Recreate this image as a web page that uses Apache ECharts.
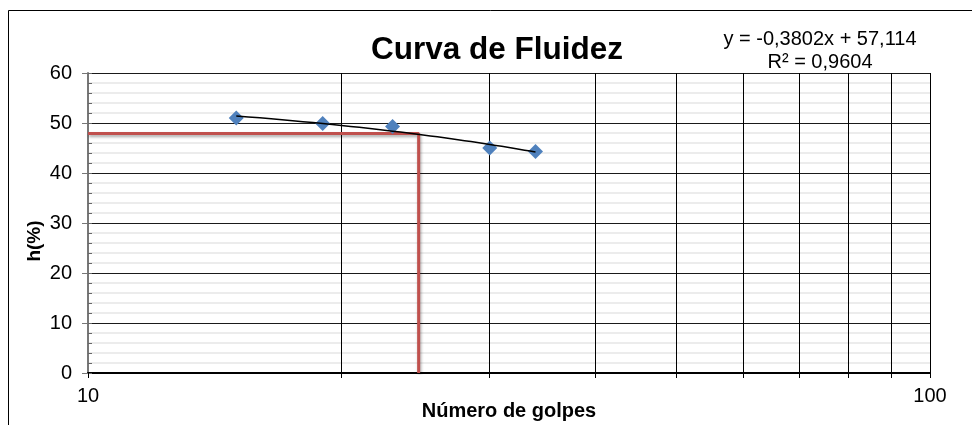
<!DOCTYPE html>
<html>
<head>
<meta charset="utf-8">
<script src="https://cdn.jsdelivr.net/npm/echarts@6/dist/echarts.min.js"></script>
<style>
  html, body { margin: 0; padding: 0; background: #ffffff; }
  #chart { width: 972px; height: 425px; }
</style>
</head>
<body>
<div id="chart"></div>
<script>
// Ensayo de límite líquido: número de golpes vs. humedad
const golpes = [15, 19, 23, 30, 34];
const humedad = [51.0, 49.9, 49.3, 45.0, 44.3];

// Línea de tendencia lineal (coeficientes de Excel)
const trendSlope = -0.3802;
const trendIntercept = 57.114;
const trendR2 = 0.9604;

// Lectura de la humedad a 25 golpes (trazo rojo)
const lecturaGolpes = [10, 24.7, 24.7];
const lecturaHumedad = [47.9, 47.9, 0];

// Ticks del eje X (logarítmico) y sus etiquetas
const xTickValues = [10, 20, 30, 40, 50, 60, 70, 80, 90, 100];
const xLabelValues = [10, 100];

const FONT = '"Liberation Sans", Arial, sans-serif';

const fmt = (v, d) => v.toFixed(d).replace('.', ',');
const eqText = 'y = ' + fmt(trendSlope, 4) + 'x + ' + fmt(trendIntercept, 3) +
  '\nR² = ' + fmt(trendR2, 4);

// Curva de la tendencia sobre el rango de los golpes medidos
const trendData = [];
for (let x = golpes[0]; x <= golpes[golpes.length - 1]; x += 0.5) {
  trendData.push([x, trendSlope * x + trendIntercept]);
}

const chart = echarts.init(document.getElementById('chart'), null, { renderer: 'canvas' });

chart.setOption({
  backgroundColor: '#ffffff',
  animation: false,
  textStyle: { fontFamily: FONT },
  title: [
    {
      text: 'Curva de Fluidez',
      left: 366, top: 29,
      textStyle: { fontFamily: FONT, fontSize: 31.5, fontWeight: 'bold', color: '#000' }
    },
    {
      text: eqText,
      left: 815, top: 23, textAlign: 'center',
      textStyle: { fontFamily: FONT, fontSize: 20, fontWeight: 'normal', color: '#000', lineHeight: 23, align: 'center' }
    }
  ],
  graphic: [
    {
      type: 'rect',
      shape: { x: 8.5, y: 10.5, width: 1200, height: 800 },
      style: { fill: null, stroke: '#000', lineWidth: 1 },
      silent: true, z: 0
    }
  ],
  grid: { left: 88, right: 42, top: 73, bottom: 52, containLabel: false, outerBoundsMode: 'none' },
  xAxis: {
    type: 'log', logBase: 10, min: 10, max: 100,
    axisLine: { show: true, lineStyle: { color: '#000', width: 2 } },
    axisTick: { show: true, length: 5, customValues: xTickValues, lineStyle: { color: '#000', width: 1 } },
    axisLabel: { customValues: xLabelValues, margin: 13, fontSize: 20, color: '#000', fontFamily: FONT },
    splitLine: { show: true, lineStyle: { color: '#000', width: 1 } },
    name: 'Número de golpes', nameLocation: 'middle', nameGap: 28, nameMoveOverlap: false,
    nameTextStyle: { fontFamily: FONT, fontSize: 20, fontWeight: 'bold', color: '#000' }
  },
  yAxis: [
    {
      type: 'value', min: 0, max: 60, interval: 10,
      axisLine: { show: true, lineStyle: { color: '#777', width: 2 } },
      axisTick: { show: true, length: 6, lineStyle: { color: '#777' } },
      axisLabel: { margin: 16, fontSize: 20, color: '#000', fontFamily: FONT },
      splitLine: { show: true, lineStyle: { color: '#1a1a1a', width: 1 } },
      minorTick: { show: false, splitNumber: 5 },
      minorSplitLine: { show: true, lineStyle: { color: '#ececec', width: 2 } },
      name: 'h(%)', nameLocation: 'middle', nameGap: 44, nameMoveOverlap: false,
      nameTextStyle: { fontFamily: FONT, fontSize: 19, fontWeight: 'bold', color: '#000', padding: [0, 36, 0, 0] }
    },
    {
      // marcas interiores cada 2 %
      type: 'value', min: 0, max: 60, interval: 2, position: 'left', offset: 0,
      axisLine: { show: false },
      axisTick: { show: true, inside: true, length: 4, lineStyle: { color: '#666' } },
      axisLabel: { show: false },
      splitLine: { show: false }
    }
  ],
  series: [
    {
      name: 'Lectura 25 golpes',
      type: 'line',
      data: lecturaGolpes.map((g, i) => [g, lecturaHumedad[i]]),
      showSymbol: false,
      lineStyle: {
        color: '#C0504D', width: 3,
        shadowColor: 'rgba(0,0,0,0.35)', shadowBlur: 3, shadowOffsetX: 1, shadowOffsetY: 2
      },
      z: 3
    },
    {
      name: 'Humedad',
      type: 'scatter',
      data: golpes.map((g, i) => [g, humedad[i]]),
      symbol: 'diamond',
      symbolSize: 15,
      itemStyle: { color: '#4F81BD', opacity: 1 },
      z: 4
    },
    {
      name: 'Tendencia',
      type: 'line',
      data: trendData,
      showSymbol: false,
      smooth: false,
      lineStyle: { color: '#000', width: 1.5 },
      z: 5
    }
  ]
});
</script>
</body>
</html>
